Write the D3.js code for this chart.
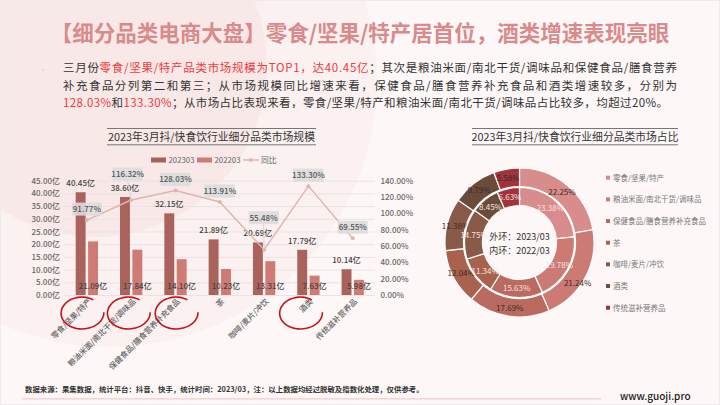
<!DOCTYPE html>
<html>
<head>
<meta charset="utf-8">
<script src="https://cdn.jsdelivr.net/npm/d3@7"></script>
<style>
  html, body { margin: 0; padding: 0; background: #fdf8f7; }
  svg { display: block; font-family: "Noto Sans CJK SC", "Noto Sans", sans-serif; }
</style>
</head>
<body>
<div id="chart"></div>
<script>
const categories = ["零食/坚果/特产", "粮油米面/南北干货/调味品", "保健食品/膳食营养补充食品", "茶", "咖啡/麦片/冲饮", "酒类", "传统滋补营养品"];
const values2023 = [40.45, 38.60, 32.15, 21.89, 20.69, 17.79, 10.14];
const values2022 = [21.09, 17.84, 14.10, 10.23, 13.31, 7.63, 5.98];
const growth = [91.77, 116.32, 128.03, 113.91, 55.48, 133.30, 69.55];
const leftTicks = [0, 5, 10, 15, 20, 25, 30, 35, 40, 45];
const rightTicks = [0, 20, 40, 60, 80, 100, 120, 140];
const shareOuter = [22.25, 21.24, 17.69, 12.04, 11.38, 9.79, 5.58];
const shareInner = [23.38, 19.78, 15.63, 11.34, 14.75, 8.45, 6.63];
const circledCategories = ["零食/坚果/特产", "粮油米面/南北干货/调味品", "保健食品/膳食营养补充食品", "酒类"];
const pieColors = ["#d98c8c", "#cc7a74", "#bb6a5f", "#a8624e", "#8a5a48", "#6b4c3a", "#a3333a"];

const bodyLines = [
  [["三月份", 0], ["零食/坚果/特产品类市场规模为TOP1，达40.45亿", 1], ["；其次是粮油米面/南北干货/调味品和保健食品/膳食营养", 0]],
  [["补充食品分列第二和第三；从市场规模同比增速来看，保健食品/膳食营养补充食品和酒类增速较多，分别为", 0]],
  [["128.03%", 1], ["和", 0], ["133.30%", 1], ["；从市场占比表现来看，零食/坚果/特产和粮油米面/南北干货/调味品占比较多，均超过20%。", 0]]
];

const width = 720, height = 405;
const svg = d3.select("#chart").append("svg").attr("width", width).attr("height", height);

// background
svg.append("rect").attr("width", width).attr("height", height).attr("fill", "#fdf8f7");
svg.append("circle").attr("cx", 110).attr("cy", 80).attr("r", 267).attr("fill", "#faf1f0");
svg.append("circle").attr("cx", 95).attr("cy", 65).attr("r", 172).attr("fill", "#f8e9e8");
svg.append("rect").attr("width", width - 1).attr("height", height - 1).attr("x", 0.5).attr("y", 0.5)
  .attr("fill", "none").attr("stroke", "#ececec");

svg.append("text").attr("x", 360).attr("y", 41).attr("text-anchor", "middle")
  .attr("font-size", 21.5).attr("font-weight", 700).attr("fill", "#d98a8a")
  .text("【细分品类电商大盘】零食/坚果/特产居首位，酒类增速表现亮眼");

svg.append("circle").attr("cx", 43).attr("cy", 70).attr("r", 0.6).attr("fill", "#e59a9a");

const bodyWidths = [614, 614, 605];
bodyLines.forEach(function(line, i) {
  const t = svg.append("text").attr("x", 63).attr("y", 72 + i * 17.5)
    .attr("font-size", 11.5).attr("fill", "#333")
    .attr("textLength", bodyWidths[i]).attr("lengthAdjust", "spacing");
  line.forEach(function(part) {
    t.append("tspan").attr("fill", part[1] ? "#f03a3a" : "#333").text(part[0]);
  });
});

function chartTitle(x1, x2, label) {
  const g = svg.append("g");
  [128.5, 144.8].forEach(function(y) {
    g.append("line").attr("x1", x1).attr("x2", x2).attr("y1", y).attr("y2", y)
      .attr("stroke", "#777").attr("stroke-width", 1);
  });
  g.append("text").attr("x", (x1 + x2) / 2).attr("y", 140.5).attr("text-anchor", "middle")
    .attr("font-size", 10.8).attr("fill", "#333").text(label);
}
chartTitle(107, 316, "2023年3月抖/快食饮行业细分品类市场规模");
chartTitle(472, 678, "2023年3月抖/快食饮行业细分品类市场占比");

// bar + line chart
const x = d3.scaleBand().domain(categories).range([64.7, 374.9]);
const xSeries = d3.scaleBand().domain(["202303", "202203"]).range([11, 33.3]).paddingInner(0.2);
const yLeft = d3.scaleLinear().domain([0, 45]).range([295, 180.7]);
const yRight = d3.scaleLinear().domain([0, 140]).range([295, 180.7]);

const grid = svg.append("g").attr("transform", "translate(64.7,0)")
  .call(d3.axisRight(yLeft).tickValues(leftTicks).tickSize(310.2).tickFormat(""));
grid.select(".domain").remove();
grid.selectAll("line").attr("stroke", "#ebe3e2").attr("stroke-width", 1);

const axisL = svg.append("g").attr("transform", "translate(64,0)")
  .call(d3.axisLeft(yLeft).tickValues(leftTicks).tickSize(0).tickPadding(4).tickFormat(d => d3.format(".2f")(d) + "亿"));
const axisR = svg.append("g").attr("transform", "translate(375,0)")
  .call(d3.axisRight(yRight).tickValues(rightTicks).tickSize(0).tickPadding(5.5).tickFormat(d => d3.format(".2f")(d) + "%"));
[axisL, axisR].forEach(function(a) {
  a.select(".domain").remove();
  a.selectAll("text").attr("font-size", 8).attr("font-weight", 500).attr("fill", "#666")
    .attr("font-family", '"Noto Sans CJK SC", sans-serif');
});

svg.append("g").selectAll("rect").data(categories).join("rect")
  .attr("x", d => x(d) + xSeries("202303"))
  .attr("width", xSeries.bandwidth())
  .attr("y", (d, i) => yLeft(values2023[i]))
  .attr("height", (d, i) => yLeft(0) - yLeft(values2023[i]))
  .attr("fill", "#a9625c");
svg.append("g").selectAll("rect").data(categories).join("rect")
  .attr("x", d => x(d) + xSeries("202203"))
  .attr("width", xSeries.bandwidth())
  .attr("y", (d, i) => yLeft(values2022[i]))
  .attr("height", (d, i) => yLeft(0) - yLeft(values2022[i]))
  .attr("fill", "#cd7b74");

const barLabelStyle = sel => sel.attr("text-anchor", "middle").attr("font-size", 8)
  .attr("font-weight", 500).attr("fill", "#444");
svg.append("g").selectAll("text").data(categories).join("text").call(barLabelStyle)
  .attr("x", d => x(d) + xSeries("202303") + xSeries.bandwidth() / 2)
  .attr("y", (d, i) => yLeft(values2023[i]) - 6)
  .text((d, i) => values2023[i].toFixed(2) + "亿");
svg.append("g").selectAll("text").data(categories).join("text").call(barLabelStyle)
  .attr("x", d => x(d) + xSeries("202203") + xSeries.bandwidth() / 2)
  .attr("y", 289)
  .text((d, i) => values2022[i].toFixed(2) + "亿");

const lineColor = "#e2b3ae";
const cx = i => x(categories[i]) + x.bandwidth() / 2;
svg.append("path")
  .attr("d", d3.line().x((d, i) => cx(i)).y(d => yRight(d))(growth))
  .attr("fill", "none").attr("stroke", lineColor).attr("stroke-width", 1.4);
svg.append("g").selectAll("circle").data(growth).join("circle")
  .attr("cx", (d, i) => cx(i)).attr("cy", d => yRight(d)).attr("r", 2).attr("fill", lineColor);

// two labels sit higher with a leader line
const lifted = { 1: [-3.5, -26], 4: [-0.5, -32] };
growth.forEach(function(d, i) {
  if (lifted[i]) {
    svg.append("line").attr("x1", cx(i)).attr("y1", yRight(d))
      .attr("x2", cx(i) + lifted[i][0]).attr("y2", yRight(d) + lifted[i][1] + 6)
      .attr("stroke", "#cfcfcf").attr("stroke-width", 0.8);
  }
});
const growthLabels = svg.append("g").selectAll("g").data(growth).join("g")
  .attr("transform", function(d, i) {
    const o = lifted[i] || [0, -11];
    return `translate(${cx(i) + o[0]},${yRight(d) + o[1]})`;
  });
growthLabels.append("rect").attr("x", -15).attr("y", -6.5).attr("width", 30).attr("height", 13)
  .attr("fill", "#dcdcdc").attr("fill-opacity", 0.9);
growthLabels.append("text").attr("text-anchor", "middle").attr("y", 2.8)
  .attr("font-size", 8).attr("font-weight", 500).attr("fill", "#555")
  .text(d => d.toFixed(2) + "%");

// category labels
svg.append("g").selectAll("text").data(categories).join("text")
  .attr("transform", d => `translate(${x(d) + x.bandwidth() / 2 + 5},302) rotate(-45)`)
  .attr("text-anchor", "end").attr("font-size", 7.8).attr("font-weight", 500).attr("fill", "#666")
  .text(d => d);

// hand drawn circles
const stroke = d3.line().curve(d3.curveBasis);
const circleDx = { "零食/坚果/特产": -5, "粮油米面/南北干货/调味品": -3, "保健食品/膳食营养补充食品": 0.5, "酒类": -8 };
svg.append("g").selectAll("path").data(circledCategories).join("path")
  .attr("fill", "none").attr("stroke", "#c5141b").attr("stroke-width", 1.6)
  .attr("d", function(d) {
    const mx = x(d) + x.bandwidth() / 2 + circleDx[d];
    const pts = d3.range(0, 41).map(function(k) {
      const a = (-55 - k * 7.7) * Math.PI / 180, s = 1 + 0.05 * (k - 20) / 20;
      return [mx + 21 * s * Math.cos(a), 313 + 16 * Math.sin(a)];
    });
    return stroke(pts);
  });

// bar legend
const legend = svg.append("g").attr("font-size", 7.8).attr("fill", "#666");
legend.append("rect").attr("x", 151).attr("y", 157.5).attr("width", 15).attr("height", 5).attr("fill", "#a9625c");
legend.append("text").attr("x", 168.5).attr("y", 163).text("202303");
legend.append("rect").attr("x", 197).attr("y", 157.5).attr("width", 15).attr("height", 5).attr("fill", "#cd7b74");
legend.append("text").attr("x", 214.5).attr("y", 163).text("202203");
legend.append("line").attr("x1", 243).attr("x2", 259).attr("y1", 160).attr("y2", 160).attr("stroke", lineColor).attr("stroke-width", 1.4);
legend.append("circle").attr("cx", 251).attr("cy", 160).attr("r", 2).attr("fill", lineColor);
legend.append("text").attr("x", 261).attr("y", 163).text("同比");

// double donut, the inner ring covers the long outer labels
const pie = d3.pie().sort(null).value(d => d);
const donut = svg.append("g").attr("transform", "translate(519.5,242.5)");
function ring(vals, r0, r1, labelR, labelColor, nudge) {
  const arc = d3.arc().innerRadius(r0).outerRadius(r1);
  const labelArc = d3.arc().innerRadius(labelR).outerRadius(labelR);
  const arcs = pie(vals);
  donut.append("g").selectAll("path").data(arcs).join("path")
    .attr("d", arc).attr("fill", (d, i) => pieColors[i])
    .attr("stroke", "#fff").attr("stroke-width", 1.2);
  donut.append("g").selectAll("text").data(arcs).join("text")
    .attr("text-anchor", "middle").attr("font-size", 8).attr("fill", labelColor)
    .attr("transform", function(d, i) {
      const c = labelArc.centroid(d);
      return `translate(${c[0] + nudge(i)[0]},${c[1] + 3 + nudge(i)[1]})`;
    })
    .text(d => d.value.toFixed(2) + "%");
}
ring(shareOuter, 56, 74.5, 66, "#3a2a2a", i => [0, i === 1 ? 9 : 0]);
ring(shareInner, 37, 55, 46, "#f6e3e0", i => [i === 3 ? 2 : 0, 0]);
donut.append("text").attr("text-anchor", "middle").attr("y", -2.5).attr("font-size", 9).attr("fill", "#333").text("外环：2023/03");
donut.append("text").attr("text-anchor", "middle").attr("y", 11.5).attr("font-size", 9).attr("fill", "#333").text("内环：2022/03");

// donut legend
const yLegend = d3.scalePoint().domain(categories).range([177.7, 307.7]);
const pieLegend = svg.append("g").selectAll("g").data(categories).join("g")
  .attr("transform", d => `translate(606,${yLegend(d)})`);
pieLegend.append("rect").attr("y", -2).attr("width", 4).attr("height", 4).attr("fill", (d, i) => pieColors[i]);
pieLegend.append("text").attr("x", 7).attr("y", 2.8).attr("font-size", 7.5).attr("fill", "#777").text(d => d);

// footer
svg.append("text").attr("x", 25).attr("y", 391.5).attr("font-size", 7.4).attr("font-weight", 700).attr("fill", "#333")
  .text("数据来源：果集数据，统计平台：抖音、快手，统计时间：2023/03，注：以上数据均经过脱敏及指数化处理，仅供参考。");
svg.append("rect").attr("x", 22).attr("y", 398).attr("width", 579).attr("height", 1.6).attr("fill", "#f3d7d5");
svg.append("text").attr("x", 620).attr("y", 400).attr("font-size", 10).attr("font-weight", 500).attr("fill", "#222")
  .text("www.guoji.pro");
</script>
</body>
</html>
